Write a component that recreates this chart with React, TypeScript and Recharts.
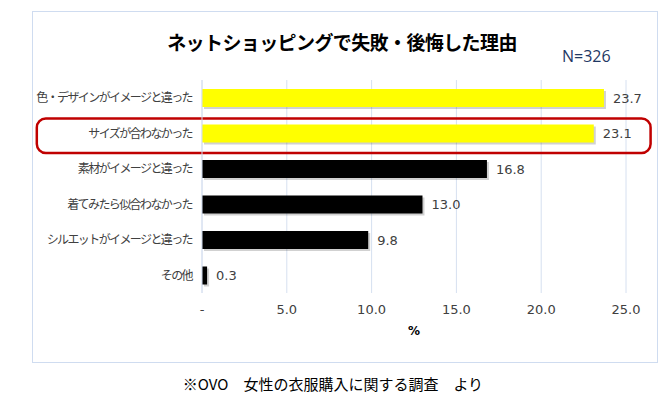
import { BarChart, Bar, XAxis, YAxis, CartesianGrid, Cell, LabelList, ReferenceArea } from 'recharts';

const categories = ['色・デザインがイメージと違った', 'サイズが合わなかった', '素材がイメージと違った', '着てみたら似合わなかった', 'シルエットがイメージと違った', 'その他'];
const values = [23.7, 23.1, 16.8, 13.0, 9.8, 0.3];
const barColors = ['#ffff00', '#ffff00', '#000000', '#000000', '#000000', '#000000'];
const xTicks = [0, 5, 10, 15, 20, 25];
const highlighted = 'サイズが合わなかった';

const data = categories.map((name, i) => ({ name, value: values[i], color: barColors[i] }));

const jp = '"Noto Sans CJK JP", "Noto Sans", sans-serif';

const ShadowBar = (props: any) => {
  const { x, y, width, height, fill } = props;
  if (!width || width <= 0) return null;
  return (
    <g>
      <rect x={x + 2} y={y + 2} width={width} height={height} fill="#000" fillOpacity={0.18} />
      <rect x={x} y={y} width={width} height={height} fill={fill} />
    </g>
  );
};

const Highlight = (props: any) => {
  const { x, y, width, height } = props;
  return <rect x={x} y={y + 3} width={width} height={height - 1} rx={9} ry={9} fill="none" stroke="#c00000" strokeWidth={2.5} />;
};

export default function App() {
  return (
    <div style={{ position: 'absolute', left: 0, top: 0, width: 672, height: 397, background: '#fff', fontFamily: jp }}>
      <div style={{ position: 'absolute', left: 32, top: 11, width: 624, height: 350, border: '1px solid #cfdcf0' }} />
      <div style={{ position: 'absolute', left: 0, width: 684, top: 28, textAlign: 'center', fontSize: 19, fontWeight: 700, color: '#000', letterSpacing: -0.6 }}>
        ネットショッピングで失敗・後悔した理由
      </div>
      <div style={{ position: 'absolute', left: 562, top: 45, fontSize: 16, color: '#1f3864', fontFamily: '"Open Sans", sans-serif' }}>N=326</div>
      <BarChart width={672} height={397} data={data} layout="vertical" margin={{ top: 80, right: 46, bottom: 74, left: 32 }} style={{ position: 'absolute', left: 0, top: 0 }}>
        <CartesianGrid horizontal={false} vertical stroke="#d6e0f0" />
        <XAxis type="number" domain={[0, 25]} ticks={xTicks} tickFormatter={(v: number) => (v === 0 ? '-' : v.toFixed(1))} axisLine={false} tickLine={false} tickMargin={6} height={30}
          tick={{ fill: '#404040', fontSize: 13, fontFamily: '"DejaVu Sans", sans-serif' }}
          label={{ value: '%', position: 'bottom', offset: 3, fill: '#000', fontSize: 12, fontWeight: 700, fontFamily: '"DejaVu Sans", sans-serif' }} />
        <YAxis type="category" dataKey="name" width={170} axisLine={{ stroke: '#d6e0f0' }} tickLine={false} tickMargin={4}
          tick={{ fill: '#404040', fontSize: 12, fontFamily: jp, letterSpacing: -1.6 }} />
        <ReferenceArea y1={highlighted} y2={highlighted} x1={-9.74} x2={26.45} ifOverflow="visible" shape={Highlight} />
        <Bar dataKey="value" barSize={18} isAnimationActive={false} shape={ShadowBar}>
          {data.map((d, i) => <Cell key={i} fill={d.color} />)}
          <LabelList dataKey="value" position="right" offset={9} formatter={(v: any) => Number(v).toFixed(1)}
            style={{ fill: '#404040', fontSize: 13, fontFamily: '"DejaVu Sans", sans-serif' }} />
        </Bar>
      </BarChart>
      <div style={{ position: 'absolute', left: 0, width: 666, top: 373, textAlign: 'center', fontSize: 15, color: '#000' }}>
        ※OVO　女性の衣服購入に関する調査　より
      </div>
    </div>
  );
}
